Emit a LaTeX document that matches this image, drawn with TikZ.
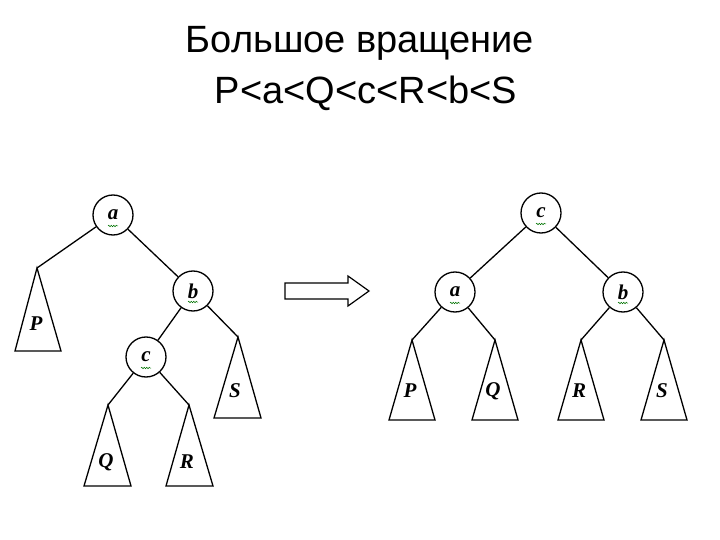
\documentclass[tikz,border=0pt]{standalone}
\usepackage{fontspec}
\setmainfont{Liberation Serif}
\newfontfamily\titlefont{Liberation Sans}
\usetikzlibrary{decorations.pathmorphing,calc}
\begin{document}
\begin{tikzpicture}[x=1pt,y=-1pt,line width=1.3pt,
  vert/.style={circle,draw,minimum size=40pt,inner sep=0pt,font=\fontsize{21}{21}\selectfont\bfseries\itshape},
  tlab/.style={font=\fontsize{21}{21}\selectfont\bfseries\itshape},
  squig/.style={draw=green!45!black,line width=0.5pt,decorate,decoration={snake,amplitude=0.8pt,segment length=2.5pt}}]
\useasboundingbox (0,0) rectangle (720,540);
\node[font=\titlefont\fontsize{38}{38}\selectfont] (t1) at (360,43) {Большое вращение};
\node[font=\titlefont\fontsize{38}{38}\selectfont] (t2) at (366,93) {P<a<Q<c<R<b<S};
% left tree
\node[vert] (a) at (113,215) {a};
\node[vert] (b) at (193,291) {b};
\node[vert] (c) at (146,357) {c};
\coordinate (Pl) at (37,268); \coordinate (Sl) at (238,337);
\coordinate (Ql) at (108,405); \coordinate (Rl) at (189,405);
\draw (a) -- (Pl); \draw (a) -- (b); \draw (b) -- (c); \draw (b) -- (Sl);
\draw (c) -- (Ql); \draw (c) -- (Rl);
\draw (Pl) -- (61,351) -- (15,351) -- cycle;
\draw (Sl) -- (261,418) -- (214,418) -- cycle;
\draw (Ql) -- (131,486) -- (84,486) -- cycle;
\draw (Rl) -- (213,486) -- (166,486) -- cycle;
\node[tlab] (lP) at (36,324) {P};
\node[tlab] (lS) at (235,391) {S};
\node[tlab] (lQ) at (106,462) {Q};
\node[tlab] (lR) at (187,462) {R};
% arrow
\draw[line width=1.2pt] (285,283) -- (348,283) -- (348,276) -- (369,291) -- (348,306) -- (348,299) -- (285,299) -- cycle;
% right tree
\node[vert] (c2) at (541,213) {c};
\node[vert] (a2) at (455,292) {a};
\node[vert] (b2) at (623,292) {b};
\coordinate (P2) at (412,340); \coordinate (Q2) at (495,340);
\coordinate (R2) at (581,340); \coordinate (S2) at (664,340);
\draw (c2) -- (a2); \draw (c2) -- (b2);
\draw (a2) -- (P2); \draw (a2) -- (Q2); \draw (b2) -- (R2); \draw (b2) -- (S2);
\foreach \p/\l in {P2/P,Q2/Q,R2/R,S2/S}{
  \draw (\p) -- ++(23,80) -- ++(-46,0) -- cycle;
  \node[tlab] (l\p) at ($(\p)+(-2,51)$) {\l};
}
% squiggles
\foreach \n in {a,b,c,a2,b2,c2}{
  \draw[squig] ($(\n.center)+(-5,11)$) -- ($(\n.center)+(5,11)$);
}
\end{tikzpicture}
\end{document}
